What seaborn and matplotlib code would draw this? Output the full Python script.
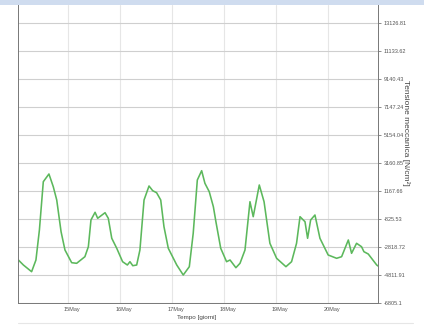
import matplotlib
matplotlib.use("Agg")
import matplotlib.pyplot as plt
import matplotlib.transforms as mtransforms
from matplotlib.patches import Rectangle
from matplotlib.lines import Line2D
import numpy as np
import pandas as pd
import seaborn as sns

# hours since 14 May 00:00
hours = [1.1, 3.4, 7.2, 9.2, 10.8, 12.6, 15.2, 17.2, 18.8, 20.8, 22.6, 25.7, 28.0,
         31.8, 33.4, 34.6, 36.5, 37.7, 41.1, 42.6, 44.2, 46.5, 49.2, 51.4, 52.6,
         53.9, 55.7, 57.2, 59.1, 61.4, 63.1, 64.9, 66.8, 68.3, 70.3, 74.2, 77.2,
         80.0, 81.8, 83.7, 85.7, 87.2, 89.2, 91.1, 92.3, 94.5, 97.2, 98.8, 101.5,
         103.4, 105.7, 108.0, 109.5, 112.3, 114.5, 117.2, 120.3, 124.6, 127.2,
         129.5, 131.1, 133.4, 134.6, 136.0, 138.0, 140.3, 144.1, 148.0, 150.3,
         153.4, 154.9, 157.2, 159.5, 160.6, 162.6, 166.5, 167.1]
stress = [-3744, -4100, -4577, -3744, -1608, 1830, 2378, 1474, 527, -1730, -3032,
          -3936, -3979, -3509, -2797, -896, -348, -775, -377, -775, -2199, -2911,
          -3865, -4100, -3865, -4150, -4100, -3032, 527, 1524, 1189, 1046, 527,
          -1374, -2911, -4100, -4812, -4221, -1843, 1951, 2613, 1716, 1118, 50,
          -1039, -2911, -3865, -3744, -4292, -3979, -3032, 405, -661, 1595, 405,
          -2555, -3623, -4221, -3865, -2555, -661, -1017, -2199, -896, -541,
          -2199, -3388, -3623, -3509, -2320, -3267, -2555, -2797, -3153, -3317,
          -4100, -4171]

day_ticks = [24, 48, 72, 96, 120, 144]
day_labels = ["15May", "16May", "17May", "18May", "19May", "20May"]
y_ticks = [13126.81, 11133.62, 9140.43, 7147.24, 5154.04, 3160.85, 1167.66,
           -825.53, -2818.72, -4811.91, -6805.1]
y_labels = ["13126.81", "11133.62", "9140.43", "7147.24", "5154.04", "3160.85",
            "1167.66", "-825.53", "-2818.72", "-4811.91", "-6805.1"]

df = pd.DataFrame({"h": hours, "v": stress})

sns.set_style("white")
plt.rcParams["font.family"] = ["Liberation Sans", "DejaVu Sans"]

W, H = 424, 330
fig = plt.figure(figsize=(W / 100, H / 100), dpi=100)
ax = fig.add_axes([18 / W, 1 - 303 / H, (378 - 18) / W, (303 - 5) / H])

# top band and bottom separator
fig.patches.append(Rectangle((0, 1 - 5 / H), 1, 5 / H, transform=fig.transFigure,
                             facecolor="#cfdcef", edgecolor="none", zorder=0))
fig.lines.append(Line2D([18 / W, 413 / W], [1 - 323 / H, 1 - 323 / H],
                        transform=fig.transFigure, color="#e6e6e6", lw=0.8))

sns.lineplot(data=df, x="h", y="v", ax=ax, color="#5cb85c", linewidth=1.15)

ax.set_xlim(0.92, 167.1)
ax.set_ylim(-6805.1, 14408)

ax.set_yticks(y_ticks)
ax.set_yticklabels(y_labels)
ax.yaxis.tick_right()
ax.set_xticks(day_ticks)
ax.set_xticklabels(day_labels)

ax.grid(axis="y", color="#cfcfcf", lw=0.8)
ax.grid(axis="x", color="#e6e6e6", lw=0.8)
ax.set_axisbelow(True)

ax.tick_params(axis="y", which="both", right=True, left=False, length=2.5, width=0.6,
               color="#777777", labelsize=4, labelcolor="#555555", pad=1.5)
ax.tick_params(axis="x", which="both", bottom=False, length=0, labelsize=4,
               labelcolor="#555555", pad=3)
offset = mtransforms.ScaledTranslation(4 / 100, 0, fig.dpi_scale_trans)
for lbl in ax.get_xticklabels():
    lbl.set_transform(lbl.get_transform() + offset)

for s in ["left", "right", "bottom"]:
    ax.spines[s].set_visible(True)
    ax.spines[s].set_color("#777777")
    ax.spines[s].set_linewidth(0.7)
ax.spines["top"].set_visible(False)

ax.set_xlabel("")
ax.set_ylabel("")
fig.text(197 / W, 1 - 317 / H, "Tempo [giorni]", ha="center", va="center",
         fontsize=4.5, color="#444444")
fig.text(406 / W, 1 - 133 / H, "Tensione meccanica [N/cm²]", ha="center", va="center",
         rotation=270, fontsize=6, color="#444444")

fig.savefig("out.png", dpi=100)
